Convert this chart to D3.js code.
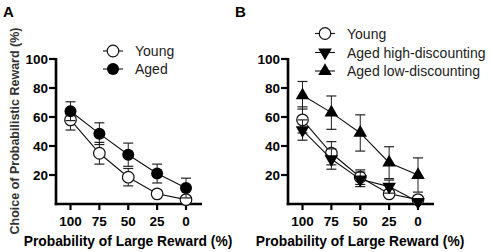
<!DOCTYPE html>
<html>
<head>
<meta charset="utf-8">
<script src="https://cdn.jsdelivr.net/npm/d3@7"></script>
<style>
body { margin: 0; background: #fff; }
text { font-family: "Liberation Sans", Arial, sans-serif; }
</style>
</head>
<body>
<svg id="chart" width="490" height="252"></svg>
<script>
// probabilities on the x axis
var probs = [100, 75, 50, 25, 0];
var yTicks = [20, 40, 60, 80, 100];

// panel A
var youngMean = [58, 35, 18.5, 7, 3];
var youngErr = [7, 7.5, 6, 0, 0];
var agedMean = [64, 48.5, 34, 21, 11];
var agedErr = [6.5, 7.5, 8, 6.5, 6.8];

// panel B
var youngBMean = [58, 35, 18.5, 7, 3];
var youngBErr = [9, 8, 5, 0, 0];
var highMean = [51, 31, 17, 12, 1.5];
var highErr = [7, 7, 5, 4.5, 0];
var lowMean = [75, 63, 49, 28.5, 20];
var lowErr = [9.5, 11.5, 12.5, 11, 11.8];

var svg = d3.select('#chart');

var y = d3.scaleLinear()
	.domain([0, 100])
	.range([204, 59]);

function drawPanel(x0, series, letter, showYLabel) {
	var x = d3.scaleLinear()
		.domain([100, 0])
		.range([x0 + 14.5, x0 + 130]);

	var g = svg.append('g');

	// y axis
	g.append('line')
		.attr('x1', x0).attr('x2', x0)
		.attr('y1', y(100) - 1).attr('y2', y(0) + 1.2)
		.attr('stroke', '#000').attr('stroke-width', 2.6);
	g.selectAll('.yt').data(yTicks).enter().append('line')
		.attr('x1', x0 - 7).attr('x2', x0)
		.attr('y1', function(d) { return y(d); })
		.attr('y2', function(d) { return y(d); })
		.attr('stroke', '#000').attr('stroke-width', 2.2);
	g.selectAll('.yl').data(yTicks).enter().append('text')
		.attr('x', x0 - 8)
		.attr('y', function(d) { return y(d) + 4.8; })
		.attr('text-anchor', 'end')
		.attr('font-size', 13.5).attr('font-weight', 'bold')
		.text(function(d) { return d; });

	// x axis
	g.append('line')
		.attr('x1', x0 - 1.3).attr('x2', x0 + 146)
		.attr('y1', y(0)).attr('y2', y(0))
		.attr('stroke', '#000').attr('stroke-width', 2.6);
	g.selectAll('.xt').data(probs).enter().append('line')
		.attr('x1', function(d) { return x(d); })
		.attr('x2', function(d) { return x(d); })
		.attr('y1', y(0)).attr('y2', y(0) + 6)
		.attr('stroke', '#000').attr('stroke-width', 2.2);
	g.selectAll('.xl').data(probs).enter().append('text')
		.attr('x', function(d) { return x(d); })
		.attr('y', 226)
		.attr('text-anchor', 'middle')
		.attr('font-size', 13.5).attr('font-weight', 'bold')
		.text(function(d) { return d; });

	g.append('text')
		.attr('x', x0 + 72).attr('y', 246)
		.attr('text-anchor', 'middle')
		.attr('font-size', 13.8).attr('font-weight', 'bold')
		.text('Probability of Large Reward (%)');

	if (showYLabel) {
		g.append('text')
			.attr('transform', 'translate(18.5,131) rotate(-90)')
			.attr('text-anchor', 'middle')
			.attr('font-size', 12.5).attr('font-weight', 'bold').attr('fill', '#333')
			.text('Choice of Probabilistic Reward (%)');
	}

	g.append('text')
		.attr('x', x0 - 53).attr('y', 17)
		.attr('font-size', 15).attr('font-weight', 'bold')
		.text(letter);

	var line = d3.line()
		.x(function(d) { return x(d.p); })
		.y(function(d) { return y(d.m); });

	series.forEach(function(s) {
		var pts = probs.map(function(p, i) { return {p: p, m: s.mean[i], e: s.err[i]}; });
		var sg = g.append('g');
		// error bars
		pts.forEach(function(d) {
			if (d.e <= 0) return;
			sg.append('line')
				.attr('x1', x(d.p)).attr('x2', x(d.p))
				.attr('y1', y(d.m - d.e)).attr('y2', y(d.m + d.e))
				.attr('stroke', '#222').attr('stroke-width', 1);
			[d.m - d.e, d.m + d.e].forEach(function(v) {
				sg.append('line')
					.attr('x1', x(d.p) - 5).attr('x2', x(d.p) + 5)
					.attr('y1', y(v)).attr('y2', y(v))
					.attr('stroke', '#222').attr('stroke-width', 1.2);
			});
		});
		sg.append('path')
			.datum(pts)
			.attr('d', line)
			.attr('fill', 'none')
			.attr('stroke', '#111')
			.attr('stroke-width', 1.1);
		pts.forEach(function(d) {
			drawMarker(sg, s.shape, x(d.p), y(d.m));
		});
	});

	// legend
	series.forEach(function(s, i) {
		var lx = s.legend[0], ly = s.legend[1];
		g.append('line')
			.attr('x1', lx - 10).attr('x2', lx + 10)
			.attr('y1', ly).attr('y2', ly)
			.attr('stroke', '#111').attr('stroke-width', 1.1);
		drawMarker(g, s.shape, lx, ly);
		g.append('text')
			.attr('x', lx + 22).attr('y', ly + 5)
			.attr('font-size', 14).attr('fill', '#222')
			.text(s.name);
	});
}

function drawMarker(sel, shape, cx, cy) {
	if (shape === 'open') {
		sel.append('circle').attr('cx', cx).attr('cy', cy).attr('r', 5.8)
			.attr('fill', '#fff').attr('stroke', '#111').attr('stroke-width', 1.2);
	} else if (shape === 'filled') {
		sel.append('circle').attr('cx', cx).attr('cy', cy).attr('r', 6)
			.attr('fill', '#000');
	} else {
		var tri = d3.symbol().type(d3.symbolTriangle).size(80);
		sel.append('path')
			.attr('d', tri())
			.attr('transform', 'translate(' + cx + ',' + cy + ')' + (shape === 'down' ? ' rotate(180)' : ''))
			.attr('fill', '#000');
	}
}

drawPanel(56, [
	{name: 'Young', shape: 'open', mean: youngMean, err: youngErr, legend: [113, 51]},
	{name: 'Aged', shape: 'filled', mean: agedMean, err: agedErr, legend: [113, 69]}
], 'A', true);

drawPanel(288, [
	{name: 'Young', shape: 'open', mean: youngBMean, err: youngBErr, legend: [325, 33.5]},
	{name: 'Aged high-discounting', shape: 'down', mean: highMean, err: highErr, legend: [325, 52.5]},
	{name: 'Aged low-discounting', shape: 'up', mean: lowMean, err: lowErr, legend: [325, 71]}
], 'B', false);
</script>
</body>
</html>
